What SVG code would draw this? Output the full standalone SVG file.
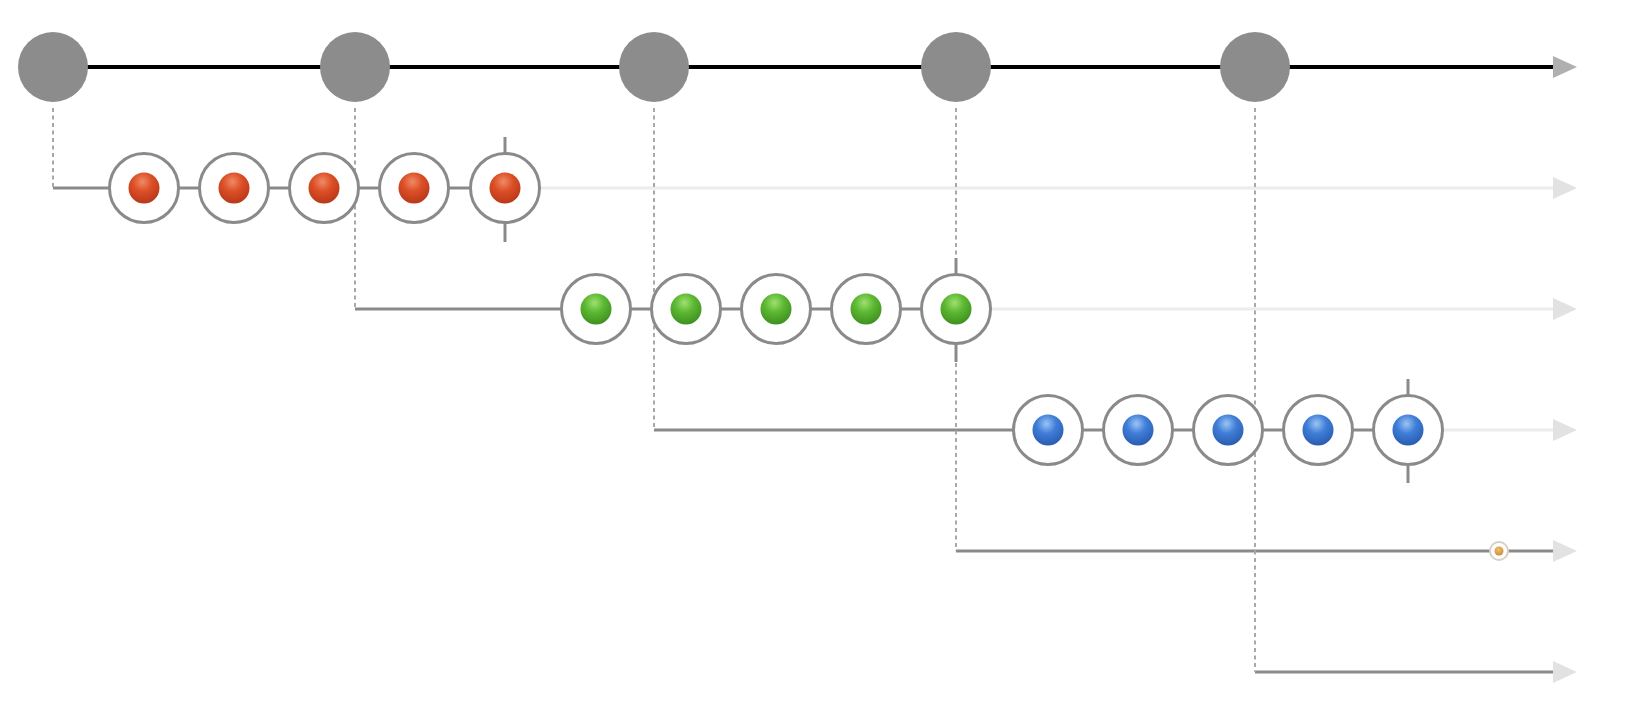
<svg xmlns="http://www.w3.org/2000/svg" width="1626" height="728" viewBox="0 0 1626 728">
<defs>
<radialGradient id="gr" cx="0.45" cy="0.3" r="0.7"><stop offset="0" stop-color="#f08a66"/><stop offset="0.45" stop-color="#dc4f26"/><stop offset="1" stop-color="#b8381a"/></radialGradient>
<radialGradient id="gg" cx="0.45" cy="0.3" r="0.7"><stop offset="0" stop-color="#9ee070"/><stop offset="0.45" stop-color="#5cb832"/><stop offset="1" stop-color="#3f9020"/></radialGradient>
<radialGradient id="gb" cx="0.45" cy="0.3" r="0.7"><stop offset="0" stop-color="#9cc4f4"/><stop offset="0.45" stop-color="#3f7ed8"/><stop offset="1" stop-color="#2a5cb0"/></radialGradient>
<radialGradient id="go" cx="0.45" cy="0.35" r="0.7"><stop offset="0" stop-color="#f0c070"/><stop offset="1" stop-color="#c88a30"/></radialGradient>
</defs>
<style>
.main{stroke:#000;stroke-width:4;fill:none}
.dark{stroke:#8a8a8a;stroke-width:3;fill:none}
.light{stroke:#ececec;stroke-width:3;fill:none}
.dash{stroke:#a8a8a8;stroke-width:2;stroke-dasharray:4 3.5;fill:none}
.tick{stroke:#8a8a8a;stroke-width:3}
.ring{fill:#fff;stroke:#8a8a8a;stroke-width:3}
.top{fill:#8c8c8c}
.ahm{fill:#b0b0b0}
.ahl{fill:#e2e2e2}
</style>
<g id="connectors">
<line class="main" x1="53" y1="67" x2="1556" y2="67"/>
<polygon class="ahm" points="1553,56 1577,67 1553,78"/>
<line class="dark" x1="53" y1="188" x2="110" y2="188"/>
<line class="dark" x1="144" y1="188" x2="504" y2="188"/>
<line class="light" x1="540" y1="188" x2="1556" y2="188"/>
<polygon class="ahl" points="1553,177 1577,188 1553,199"/>
<line class="dark" x1="355" y1="309" x2="596" y2="309"/>
<line class="dark" x1="596" y1="309" x2="956" y2="309"/>
<line class="light" x1="992" y1="309" x2="1556" y2="309"/>
<polygon class="ahl" points="1553,298 1577,309 1553,320"/>
<line class="dark" x1="654" y1="430" x2="1408" y2="430"/>
<line class="light" x1="1444" y1="430" x2="1556" y2="430"/>
<polygon class="ahl" points="1553,419 1577,430 1553,441"/>
<line class="dark" x1="956" y1="551" x2="1556" y2="551"/>
<polygon class="ahl" points="1553,540 1577,551 1553,562"/>
<line class="dark" x1="1255" y1="672" x2="1556" y2="672"/>
<polygon class="ahl" points="1553,661 1577,672 1553,683"/>
<polyline class="dash" points="53,108 53,188"/>
<polyline class="dash" points="355,108 355,309"/>
<polyline class="dash" points="654,108 654,430"/>
<polyline class="dash" points="956,108 956,551"/>
<polyline class="dash" points="1255,108 1255,672"/>
</g>
<g id="top-nodes">
<circle class="top" cx="53" cy="67" r="35"/>
<circle class="top" cx="355" cy="67" r="35"/>
<circle class="top" cx="654" cy="67" r="35"/>
<circle class="top" cx="956" cy="67" r="35"/>
<circle class="top" cx="1255" cy="67" r="35"/>
</g>
<g id="red-row">
<line class="tick" x1="505" y1="137" x2="505" y2="242"/>
<circle class="ring" cx="144" cy="188" r="34.5"/><circle cx="144" cy="188" r="15.5" fill="url(#gr)"/>
<circle class="ring" cx="234" cy="188" r="34.5"/><circle cx="234" cy="188" r="15.5" fill="url(#gr)"/>
<circle class="ring" cx="324" cy="188" r="34.5"/><circle cx="324" cy="188" r="15.5" fill="url(#gr)"/>
<circle class="ring" cx="414" cy="188" r="34.5"/><circle cx="414" cy="188" r="15.5" fill="url(#gr)"/>
<circle class="ring" cx="505" cy="188" r="34.5"/><circle cx="505" cy="188" r="15.5" fill="url(#gr)"/>
</g>
<g id="green-row">
<line class="tick" x1="956" y1="258" x2="956" y2="362"/>
<circle class="ring" cx="596" cy="309" r="34.5"/><circle cx="596" cy="309" r="15.5" fill="url(#gg)"/>
<circle class="ring" cx="686" cy="309" r="34.5"/><circle cx="686" cy="309" r="15.5" fill="url(#gg)"/>
<circle class="ring" cx="776" cy="309" r="34.5"/><circle cx="776" cy="309" r="15.5" fill="url(#gg)"/>
<circle class="ring" cx="866" cy="309" r="34.5"/><circle cx="866" cy="309" r="15.5" fill="url(#gg)"/>
<circle class="ring" cx="956" cy="309" r="34.5"/><circle cx="956" cy="309" r="15.5" fill="url(#gg)"/>
</g>
<g id="blue-row">
<line class="tick" x1="1408" y1="379" x2="1408" y2="483"/>
<circle class="ring" cx="1048" cy="430" r="34.5"/><circle cx="1048" cy="430" r="15.5" fill="url(#gb)"/>
<circle class="ring" cx="1138" cy="430" r="34.5"/><circle cx="1138" cy="430" r="15.5" fill="url(#gb)"/>
<circle class="ring" cx="1228" cy="430" r="34.5"/><circle cx="1228" cy="430" r="15.5" fill="url(#gb)"/>
<circle class="ring" cx="1318" cy="430" r="34.5"/><circle cx="1318" cy="430" r="15.5" fill="url(#gb)"/>
<circle class="ring" cx="1408" cy="430" r="34.5"/><circle cx="1408" cy="430" r="15.5" fill="url(#gb)"/>
</g>
<g id="small-node">
<circle cx="1499" cy="551" r="9" fill="#fff" stroke="#d8d0c8" stroke-width="2"/>
<circle cx="1499" cy="551" r="4.5" fill="url(#go)"/>
</g>
</svg>
